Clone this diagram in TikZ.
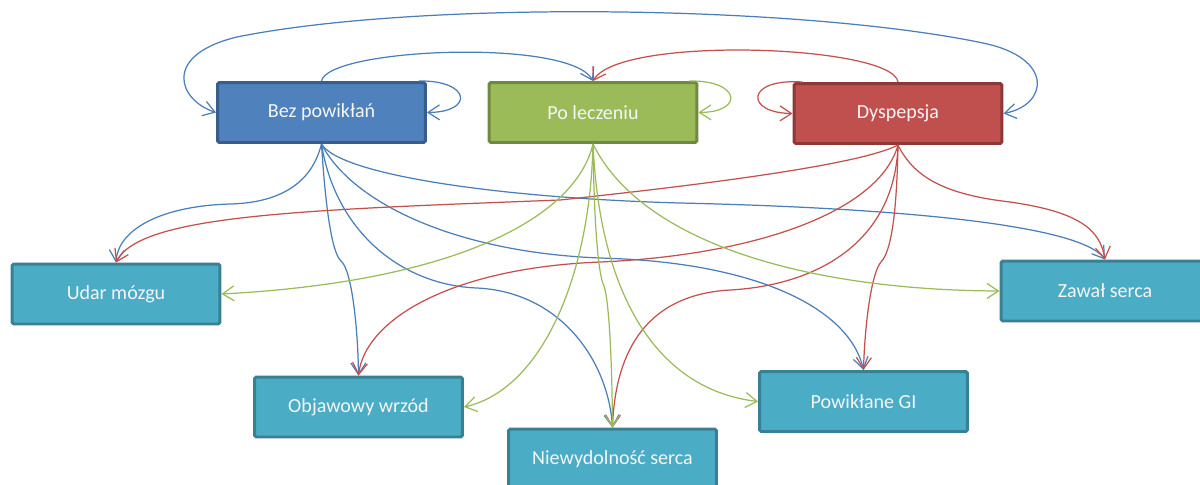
\documentclass[tikz,border=0pt]{standalone}
\usepackage{fontspec}
\setmainfont{Carlito}
\usetikzlibrary{arrows.meta}

\definecolor{bezfill}{HTML}{4F81BD}
\definecolor{bezdraw}{HTML}{385D8A}
\definecolor{pofill}{HTML}{9BBB59}
\definecolor{podraw}{HTML}{71893F}
\definecolor{dysfill}{HTML}{C0504D}
\definecolor{dysdraw}{HTML}{8C3836}
\definecolor{outfill}{HTML}{4BACC6}
\definecolor{outdraw}{HTML}{3A8095}
\definecolor{bezline}{HTML}{4A7EBB}
\definecolor{poline}{HTML}{9BBB59}
\definecolor{dysline}{HTML}{C4504D}

\begin{document}
\begin{tikzpicture}[x=0.02cm,y=-0.02cm,
  box/.style={draw, line width=1.7pt, rounded corners=1pt,
    minimum width=4.16cm, minimum height=1.2cm, inner sep=0pt,
    text=white!96!black, font=\fontsize{11.4}{13}\selectfont},
  bezbox/.style={box, fill=bezfill, draw=bezdraw},
  pobox/.style={box, fill=pofill, draw=podraw},
  dysbox/.style={box, fill=dysfill, draw=dysdraw},
  outbox/.style={box, fill=outfill, draw=outdraw},
  link/.style={line width=0.7pt, -{Straight Barb[length=6.5pt,width=8.5pt]}},
  blink/.style={link, draw=bezline},
  glink/.style={link, draw=poline},
  rlink/.style={link, draw=dysline}]

\useasboundingbox (0,0) rectangle (1200,484);
\clip (0,0) rectangle (1200,484);

% states
\node[bezbox] (bez) at (321.5,112.5) {Bez powikłań};
\node[pobox]  (po)  at (593,112.5)   {Po leczeniu};
\node[dysbox] (dys) at (898,113.5)   {Dyspepsja};

% outcomes
\node[outbox] (udar) at (116,294)    {Udar mózgu};
\node[outbox] (zaw)  at (1105,291)   {Zawał serca};
\node[outbox] (obj)  at (358.5,407)  {Objawowy wrzód};
\node[outbox] (niew) at (612.5,459)  {Niewydolność serca};
\node[outbox] (pow)  at (863.5,401.5){Powikłane GI};

% transitions from "Bez powikłań"
\draw[blink] ([xshift=-0.16cm]bez.north east) .. controls (470,80) and (475,112) .. (bez.east);
\draw[blink] (bez.north) .. controls (328,48) and (570,38) .. (po.north);
\draw[line width=0.7pt, draw=bezline, {Straight Barb[length=6.5pt,width=8.5pt]}-{Straight Barb[length=6.5pt,width=8.5pt]}]
  (bez.west) .. controls (178,100) and (162,55) .. (237,37)
  .. controls (420,0) and (800,5) .. (983,43)
  .. controls (1055,58) and (1048,105) .. (dys.east);
\draw[blink] (bez.south) .. controls (310,190) and (270,203) .. (230,204)
  .. controls (160,206) and (118,230) .. (udar.north);
\draw[blink] (bez.south) .. controls (325,200) and (331,252) .. (341,261)
  .. controls (352,270) and (358,330) .. (obj.north);
\draw[blink] (bez.south) .. controls (335,230) and (400,285) .. (477,288)
  .. controls (560,292) and (608,360) .. (niew.north);
\draw[blink] (bez.south) .. controls (350,200) and (450,252) .. (600,258)
  .. controls (760,262) and (850,310) .. (pow.north);
\draw[blink] (bez.south) .. controls (340,175) and (500,198) .. (680,203)
  .. controls (900,208) and (1080,225) .. (zaw.north);

% transitions from "Dyspepsja"
\draw[rlink] ([xshift=0.2cm]dys.north west) .. controls (745,78) and (745,113) .. (dys.west);
\draw[rlink] (dys.north) .. controls (893,45) and (620,35) .. (po.north);
\draw[rlink] (dys.south) .. controls (860,165) and (700,185) .. (560,200)
  .. controls (300,210) and (140,215) .. (udar.north);
\draw[rlink] (dys.south) .. controls (880,210) and (760,255) .. (600,262)
  .. controls (450,268) and (365,320) .. (obj.north);
\draw[rlink] (dys.south) .. controls (895,240) and (820,285) .. (730,290)
  .. controls (640,295) and (615,360) .. (niew.north);
\draw[rlink] (dys.south) .. controls (897,200) and (893,250) .. (881,262)
  .. controls (872,272) and (865,320) .. (pow.north);
\draw[rlink] (dys.south) .. controls (915,180) and (950,195) .. (1010,202)
  .. controls (1080,212) and (1100,230) .. (zaw.north);

% transitions from "Po leczeniu"
\draw[glink] ([xshift=-0.18cm]po.north east) .. controls (740,80) and (745,112) .. (po.east);
\draw[glink] (po.south) .. controls (575,220) and (450,282) .. (udar.east);
\draw[glink] (po.south) .. controls (590,280) and (540,390) .. (obj.east);
\draw[glink] (po.south) .. controls (594,220) and (598,275) .. (604,286)
  .. controls (609,300) and (612,360) .. (niew.north);
\draw[glink] (po.south) .. controls (600,300) and (660,390) .. (pow.west);
\draw[glink] (po.south) .. controls (640,240) and (800,290) .. (zaw.west);

\end{tikzpicture}
\end{document}
